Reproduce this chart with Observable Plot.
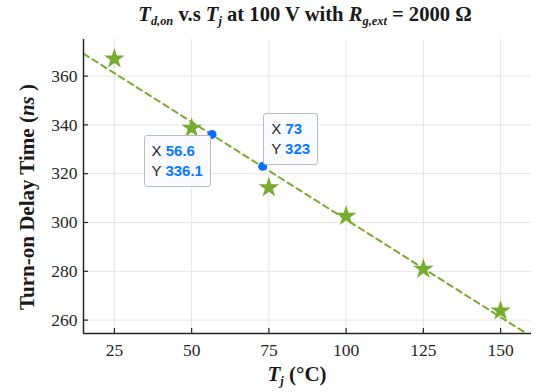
<!DOCTYPE html>
<html><head><meta charset="utf-8">
<script src="https://cdn.jsdelivr.net/npm/d3@7"></script>
<script src="https://cdn.jsdelivr.net/npm/@observablehq/plot@0.6"></script>
<style>
body{margin:0;background:#fff;}
#wrap{position:relative;width:540px;height:392px;font-family:"Liberation Serif","Times New Roman",serif;color:#1a1a1a;}
.lbl{position:absolute;white-space:nowrap;font-weight:bold;line-height:1;}
sub{font-size:0.6em;vertical-align:-0.32em;line-height:0;}
.tip{position:absolute;box-sizing:border-box;background:#fafbff;border:1px solid #bdbdbd;border-radius:3px;font-family:"Liberation Sans",Arial,sans-serif;font-size:15px;line-height:20px;padding:5px 7px 5px 7px;color:#262626;white-space:nowrap;}
.tip span{color:#0a78ff;font-weight:600;}
</style>
</head><body>
<div id="wrap"></div>
<script>
const tj = [25, 50, 75, 100, 125, 150];
const tdon = [367.1, 338.7, 314.3, 302.6, 280.9, 263.8];
const fitTj = [15, 160];
const fitTd = [369.2, 253.2];
const tipX = [56.6, 73];
const tipY = [336.1, 323];
const tipLabelX = ["56.6", "73"];
const tipLabelY = ["336.1", "323"];
const xTicks = [25, 50, 75, 100, 125, 150];
const yTicks = [260, 280, 300, 320, 340, 360];

const stars = tj.map((x, i) => ({x, y: tdon[i]}));
const fit = fitTj.map((x, i) => ({x, y: fitTd[i]}));
const tips = tipX.map((x, i) => ({x, y: tipY[i]}));

const W = 540, H = 392, mL = 83, mR = 9, mT = 39, mB = 59;
const fw = W - mL - mR, fh = H - mT - mB;
const axisCol = "#262626", green = "#77ac30";
const serif = "'Liberation Serif', 'Times New Roman', serif";

const plot = Plot.plot({
  width: W, height: H,
  marginLeft: mL, marginRight: mR, marginTop: mT, marginBottom: mB,
  x: {domain: [15, 160], label: null},
  y: {domain: [254.5, 375], label: null},
  style: {fontFamily: serif, fontSize: "17px", color: axisCol, background: "white"},
  marks: [
    Plot.gridX(xTicks, {stroke: "#e6e6e6", strokeOpacity: 1}),
    Plot.gridY(yTicks, {stroke: "#e6e6e6", strokeOpacity: 1}),
    Plot.axisX(xTicks, {tickSize: 0, tickPadding: 10, fontSize: 17.5, fill: axisCol}),
    Plot.axisY(yTicks, {tickSize: 0, tickPadding: 6, fontSize: 17.5, fill: axisCol}),
    Plot.ruleX(xTicks, {x: d => d, insetTop: fh - 5, stroke: axisCol, strokeWidth: 1.2}),
    Plot.ruleY(yTicks, {y: d => d, insetRight: fw - 5, stroke: axisCol, strokeWidth: 1.2}),
    Plot.line(fit, {x: "x", y: "y", stroke: green, strokeWidth: 2, strokeDasharray: "6,4.5", clip: true}),
    Plot.dot(stars, {x: "x", y: "y", symbol: "star", r: 6.5, fill: green}),
    Plot.dot(tips, {x: "x", y: "y", r: 4.5, fill: "#0a6eff"}),
    Plot.ruleX([15], {stroke: axisCol, strokeWidth: 1.5}),
    Plot.ruleY([254.5], {stroke: axisCol, strokeWidth: 1.5})
  ]
});
d3.select(plot).selectAll("text").style("font-family", serif);
const wrap = document.getElementById("wrap");
wrap.appendChild(plot);

function addLabel(html, style) {
  const d = document.createElement("div");
  d.className = "lbl";
  d.innerHTML = html;
  Object.assign(d.style, style);
  wrap.appendChild(d);
  return d;
}
addLabel('<i>T</i><sub><i>d,on</i></sub> v.s <i>T</i><sub><i>j</i></sub> at 100 V with <i>R</i><sub><i>g,ext</i></sub> = 2000 Ω',
  {left: "305px", top: "4px", fontSize: "20.6px", transform: "translateX(-50%)"});
addLabel('<i>T</i><sub><i>j</i></sub> (°C)',
  {left: "297px", top: "364px", fontSize: "21px", transform: "translateX(-50%)"});
addLabel('Turn-on Delay Time (<i>ns</i> )',
  {left: "27px", top: "197px", fontSize: "21px", transform: "translate(-50%,-50%) rotate(-90deg)"});

// data tip boxes, placed with the plot's scales
const sx = plot.scale("x"), sy = plot.scale("y");
function addTip(i, pos) {
  const px = sx.apply(tipX[i]), py = sy.apply(tipY[i]);
  const d = document.createElement("div");
  d.className = "tip";
  d.innerHTML = `X <span>${tipLabelX[i]}</span><br>Y <span>${tipLabelY[i]}</span>`;
  wrap.appendChild(d);
  if (pos === "ll") { d.style.left = (px - 1 - d.offsetWidth) + "px"; d.style.top = (py + 1) + "px"; }
  else { d.style.left = (px + 1) + "px"; d.style.top = (py - 1 - d.offsetHeight) + "px"; }
}
addTip(0, "ll");
addTip(1, "ur");
</script>
</body></html>
